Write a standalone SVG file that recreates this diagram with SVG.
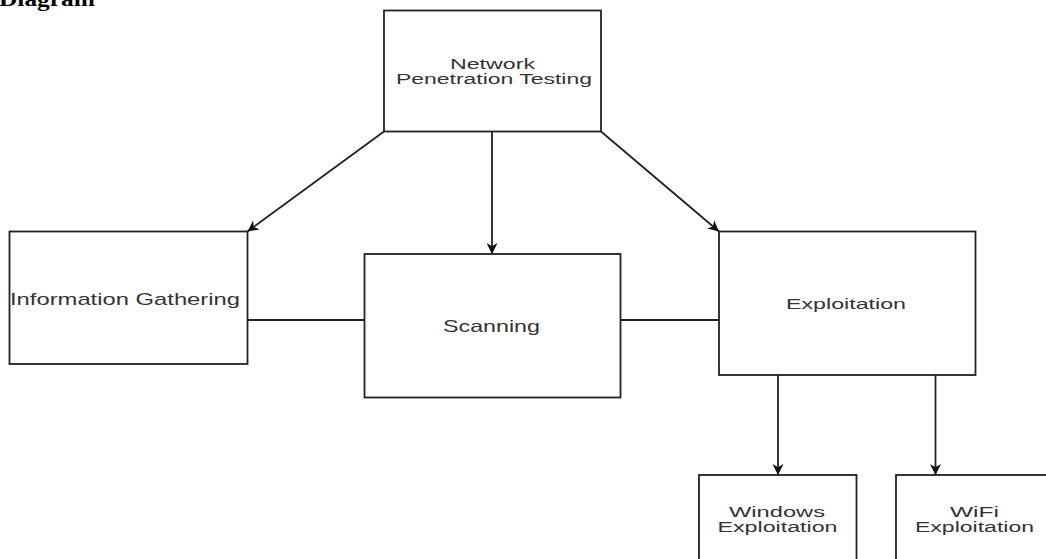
<svg xmlns="http://www.w3.org/2000/svg" width="1046" height="559" viewBox="0 0 1046 559">
  <defs>
    <marker id="arrow" viewBox="0 0 10 10" refX="10" refY="5" markerWidth="13" markerHeight="11" markerUnits="userSpaceOnUse" orient="auto">
      <path d="M0,0 L10,5 L0,10 L3,5 z" fill="#111"/>
    </marker>
  </defs>
  <style>
    .box { fill: #ffffff; stroke: #222; stroke-width: 1.8; }
    .edge { fill: none; stroke: #222; stroke-width: 1.8; }
    .lbl { font-family: "Liberation Sans", Arial, sans-serif; fill: #333; text-anchor: start; }
    .title { font-family: "Liberation Serif", "Times New Roman", serif; font-weight: bold; fill: #000; }
  </style>
  <rect width="1046" height="559" fill="#ffffff"/>

  <text class="title" x="-1" y="6" font-size="21" textLength="96" lengthAdjust="spacingAndGlyphs">Diagram</text>

  <g id="connectors">
    <line class="edge" x1="384" y1="131.5" x2="247.5" y2="231.5" marker-end="url(#arrow)"/>
    <line class="edge" x1="492" y1="131.5" x2="492" y2="254" marker-end="url(#arrow)"/>
    <line class="edge" x1="601" y1="131.5" x2="719" y2="231.5" marker-end="url(#arrow)"/>
    <line class="edge" x1="247.5" y1="320" x2="364.5" y2="320"/>
    <line class="edge" x1="620.5" y1="320" x2="719" y2="320"/>
    <line class="edge" x1="778" y1="375" x2="778" y2="475" marker-end="url(#arrow)"/>
    <line class="edge" x1="935.5" y1="375" x2="935.5" y2="475" marker-end="url(#arrow)"/>
  </g>

  <g id="node-npt">
    <rect class="box" x="384" y="10.5" width="217" height="121"/>
    <text class="lbl" x="450" y="69" font-size="14" textLength="85" lengthAdjust="spacingAndGlyphs">Network</text>
    <text class="lbl" x="396" y="84" font-size="14" textLength="196" lengthAdjust="spacingAndGlyphs">Penetration Testing</text>
  </g>

  <g id="node-info">
    <rect class="box" x="9.5" y="231.5" width="238" height="132.5"/>
    <text class="lbl" x="10" y="305" font-size="17" textLength="230" lengthAdjust="spacingAndGlyphs">Information Gathering</text>
  </g>

  <g id="node-scan">
    <rect class="box" x="364.5" y="254" width="256" height="143.5"/>
    <text class="lbl" x="443" y="331.5" font-size="16.5" textLength="97" lengthAdjust="spacingAndGlyphs">Scanning</text>
  </g>

  <g id="node-exploit">
    <rect class="box" x="719" y="231.5" width="256.5" height="143.5"/>
    <text class="lbl" x="786" y="309" font-size="15" textLength="120" lengthAdjust="spacingAndGlyphs">Exploitation</text>
  </g>

  <g id="node-windows">
    <rect class="box" x="699" y="475" width="157.5" height="100"/>
    <text class="lbl" x="729" y="516.5" font-size="14" textLength="96" lengthAdjust="spacingAndGlyphs">Windows</text>
    <text class="lbl" x="717.5" y="531.5" font-size="14" textLength="120" lengthAdjust="spacingAndGlyphs">Exploitation</text>
  </g>

  <g id="node-wifi">
    <rect class="box" x="896" y="475" width="156" height="100"/>
    <text class="lbl" x="950" y="516.5" font-size="14" textLength="49" lengthAdjust="spacingAndGlyphs">WiFi</text>
    <text class="lbl" x="915" y="531.5" font-size="14" textLength="119" lengthAdjust="spacingAndGlyphs">Exploitation</text>
  </g>
</svg>
